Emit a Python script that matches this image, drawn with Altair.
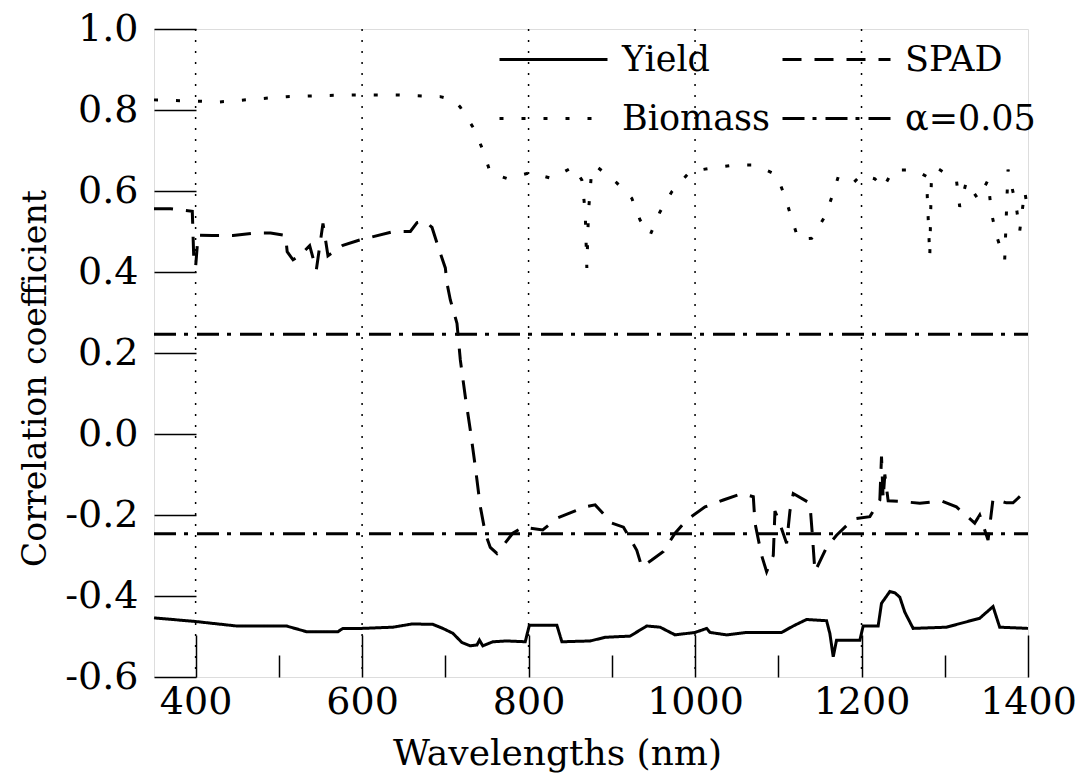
import altair as alt
import pandas as pd

# ---------------- data ----------------
yield_w = [350, 400, 449, 509, 533, 571, 577, 600, 637, 660, 685, 697, 709, 720, 730,
           738, 741, 745, 757, 774, 796, 799, 801, 834, 840, 874, 892, 922, 942, 958,
           976, 1000, 1014, 1018, 1038, 1062, 1104, 1118, 1134, 1158, 1162, 1166, 1170, 1198, 1202,
           1220, 1224, 1234, 1240, 1246, 1252, 1262, 1302, 1342, 1358, 1366, 1400]
yield_r = [-0.454, -0.463, -0.474, -0.474, -0.488, -0.488, -0.480, -0.480, -0.477, -0.469, -0.470, -0.480, -0.492, -0.515, -0.523,
           -0.521, -0.509, -0.523, -0.513, -0.511, -0.513, -0.488, -0.472, -0.472, -0.513, -0.511, -0.502, -0.499, -0.474, -0.477,
           -0.496, -0.490, -0.480, -0.490, -0.496, -0.490, -0.490, -0.474, -0.458, -0.461, -0.493, -0.550, -0.509, -0.509, -0.474,
           -0.474, -0.418, -0.389, -0.392, -0.403, -0.440, -0.480, -0.477, -0.455, -0.426, -0.477, -0.480]

spad_w = [350, 370, 396, 398, 400, 403, 420, 445, 470, 490, 508, 510, 517, 525, 537,
          545, 553, 559, 577, 597, 638, 658, 666, 676, 684, 694, 700, 702, 706, 714,
          718, 724, 730, 736, 742, 748, 754, 762, 781, 793, 817, 834, 856, 868, 880,
          900, 914, 930, 936, 948, 962, 976, 990, 1012, 1034, 1056, 1070, 1072, 1080, 1086,
          1094, 1096, 1100, 1110, 1114, 1118, 1138, 1141, 1144, 1158, 1170, 1190, 1210, 1222, 1224,
          1226, 1228, 1232, 1250, 1270, 1296, 1314, 1336, 1342, 1352, 1358, 1374, 1382, 1394, 1400]
spad_r = [0.556, 0.556, 0.550, 0.420, 0.413, 0.491, 0.490, 0.490, 0.496, 0.496, 0.490, 0.450, 0.430, 0.440, 0.465,
          0.405, 0.520, 0.440, 0.466, 0.479, 0.500, 0.500, 0.522, 0.525, 0.510, 0.446, 0.410, 0.372, 0.331, 0.273,
          0.183, 0.092, 0.010, -0.081, -0.179, -0.245, -0.280, -0.295, -0.245, -0.230, -0.237, -0.208, -0.190, -0.180, -0.175,
          -0.220, -0.230, -0.287, -0.328, -0.311, -0.290, -0.245, -0.212, -0.180, -0.163, -0.147, -0.155, -0.220, -0.300, -0.340,
          -0.300, -0.190, -0.210, -0.270, -0.190, -0.147, -0.171, -0.250, -0.340, -0.280, -0.250, -0.210, -0.204, -0.163, -0.056,
          -0.160, -0.100, -0.165, -0.167, -0.171, -0.165, -0.180, -0.220, -0.200, -0.262, -0.160, -0.170, -0.170, -0.147, -0.138]

bio_w = [350, 400, 429, 509, 561, 589, 642, 694, 710, 718, 734, 746, 754, 774, 802,
         828, 854, 864, 868, 870, 872, 876, 882, 906, 924, 934, 946, 958, 972, 994,
         1018, 1046, 1072, 1098, 1108, 1116, 1124, 1140, 1156, 1166, 1172, 1190, 1200, 1216, 1226,
         1238, 1264, 1278, 1282, 1284, 1292, 1314, 1318, 1326, 1340, 1352, 1356, 1362, 1372, 1376,
         1386, 1390, 1396, 1400]
bio_r = [0.825, 0.822, 0.820, 0.833, 0.836, 0.837, 0.837, 0.833, 0.825, 0.807, 0.755, 0.697, 0.645, 0.631, 0.645,
         0.631, 0.660, 0.627, 0.550, 0.410, 0.550, 0.655, 0.660, 0.620, 0.582, 0.528, 0.491, 0.549, 0.598, 0.648,
         0.656, 0.664, 0.664, 0.640, 0.586, 0.533, 0.481, 0.483, 0.537, 0.594, 0.635, 0.620, 0.640, 0.630, 0.607,
         0.652, 0.652, 0.636, 0.438, 0.636, 0.655, 0.627, 0.561, 0.623, 0.580, 0.627, 0.547, 0.490, 0.430, 0.653,
         0.560, 0.500, 0.600, 0.550]

alpha_level = 0.246          # critical correlation at alpha = 0.05 (both signs)
x_range = [350, 1400]
y_range = [-0.6, 1.0]

# legend fills column by column: Yield/Biomass in column 1, SPAD/alpha in column 2
series_order = ["Yield", "Biomass", "SPAD", "α=0.05"]
series_dash = [[1, 0], [4, 18], [19, 13], [22, 8, 4, 9]]
y_ticks = [-0.6, -0.4, -0.2, 0.0, 0.2, 0.4, 0.6, 0.8, 1.0]
x_major = [400, 600, 800, 1000, 1200, 1400]
x_minor = [500, 700, 900, 1100, 1300]
x_grid = [400, 600, 800, 1000, 1200]

# ---------------- tables ----------------
rows = []
for name, ws, rs in [("Yield", yield_w, yield_r), ("SPAD", spad_w, spad_r), ("Biomass", bio_w, bio_r)]:
    for w, r in zip(ws, rs):
        rows.append({"w": w, "r": r, "series": name, "group": name})
for sign, grp in [(1, "alpha_pos"), (-1, "alpha_neg")]:
    for w in x_range:
        rows.append({"w": w, "r": sign * alpha_level, "series": "α=0.05", "group": grp})
df = pd.DataFrame(rows)

FONT = "DejaVu Serif"
xscale = alt.Scale(domain=x_range, nice=False, zero=False)
yscale = alt.Scale(domain=y_range, nice=False, zero=False)

x_axis = alt.Axis(values=x_major, format="d", tickSize=42, offset=-42, domain=False, grid=False,
                  tickColor="black", tickWidth=1.5, labelFont=FONT, labelFontSize=38,
                  labelColor="black", labelPadding=6, labelOverlap=False, labelFlush=False,
                  title="Wavelengths (nm)", titleFont=FONT, titleFontSize=36,
                  titleFontWeight="normal", titleColor="black", titlePadding=15, titleX=403)
y_axis = alt.Axis(values=y_ticks, tickSize=42, offset=-42, domain=False, grid=False,
                  tickColor="black", tickWidth=1.5, labelFont=FONT, labelFontSize=38,
                  labelColor="black", labelPadding=16, labelOverlap=False, labelFlush=False,
                  labelExpr="replace(format(datum.value, '.1f'), '\u2212', '-')",
                  title="Correlation coefficient", titleFont=FONT, titleFontSize=33,
                  titleFontWeight="normal", titleColor="black", titlePadding=12, titleY=349)

grid = alt.Chart(pd.DataFrame({"g": x_grid})).mark_rule(
    color="black", strokeWidth=1.5, strokeDash=[2, 9]
).encode(x=alt.X("g:Q", scale=xscale, axis=None))

lines = alt.Chart(df).mark_line(color="black", strokeWidth=3, strokeCap="butt").encode(
    x=alt.X("w:Q", scale=xscale, axis=x_axis),
    y=alt.Y("r:Q", scale=yscale, axis=y_axis),
    strokeDash=alt.StrokeDash(
        "series:N",
        scale=alt.Scale(domain=series_order, range=series_dash),
        legend=alt.Legend(orient="none", legendX=344, legendY=8, columns=2, title=None,
                          symbolType="stroke", symbolSize=11664, symbolStrokeWidth=3,
                          symbolStrokeColor="black", labelFont=FONT, labelFontSize=35,
                          labelColor="black", labelOffset=13, labelLimit=400,
                          columnPadding=11, rowPadding=14, clipHeight=45),
    ),
    detail="group:N",
)

minor = alt.Chart(pd.DataFrame({"m": x_minor})).mark_rule(opacity=0).encode(
    x=alt.X("m:Q", scale=xscale,
            axis=alt.Axis(values=x_minor, orient="bottom", tickSize=22, offset=-22, labels=False,
                          domain=False, grid=False, title=None, tickColor="black", tickWidth=1.5))
)

chart = alt.layer(grid, lines, minor).resolve_axis(x="independent").properties(
    width=874, height=648,
    padding={"left": 154, "top": 29, "right": 61, "bottom": 103},
    autosize=alt.AutoSizeParams(type="none"),
).configure_view(stroke="black", strokeWidth=1.5).configure(font=FONT, background="white")

chart.save("out.html", embed_options={"renderer": "svg", "actions": False})
